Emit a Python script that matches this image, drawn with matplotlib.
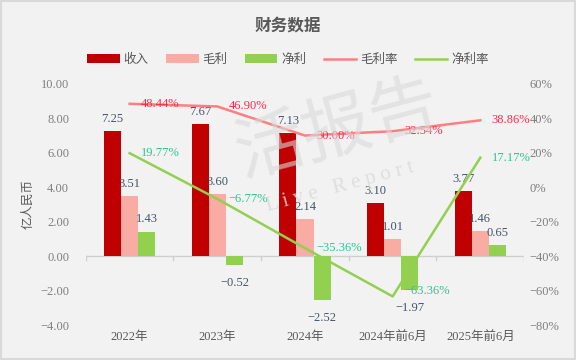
import matplotlib
matplotlib.use("Agg")
import matplotlib.pyplot as plt
import numpy as np
from matplotlib.ticker import FuncFormatter

# ---------------- data ----------------
categories = ["2022年", "2023年", "2024年", "2024年前6月", "2025年前6月"]
revenue = [7.25, 7.67, 7.13, 3.10, 3.77]
gross_profit = [3.51, 3.60, 2.14, 1.01, 1.46]
net_profit = [1.43, -0.52, -2.52, -1.97, 0.65]
gross_margin = [48.44, 46.90, 30.00, 32.54, 38.86]
net_margin = [19.77, -6.77, -35.36, -63.36, 17.17]

# ---------------- style ----------------
FONT = ["Liberation Serif", "Noto Sans CJK SC"]
plt.rcParams["font.family"] = FONT
plt.rcParams["axes.unicode_minus"] = True

BG = "#f2f2f2"
C_REV = "#c00000"
C_GP = "#f9aca3"
C_NP = "#92d050"
C_GM = "#ff7f7f"
C_NM = "#92d050"
C_TXT = "#595959"
C_LBL = "#44546a"

fig = plt.figure(figsize=(5.76, 3.6), dpi=100, facecolor=BG)
ax = fig.add_axes([0.149, 0.097, 0.761, 0.670])
ax.set_facecolor(BG)
ax2 = ax.twinx()

x = np.arange(len(categories))
w = 0.195

# watermark
fig.text(0.585, 0.64, "活报告", fontsize=50, color="#d9d9d9", alpha=0.6,
         rotation=15, ha="center", va="center", family="Noto Sans CJK SC",
         zorder=0)
fig.text(0.59, 0.48, "L i v e   R e p o r t", fontsize=15, color="#d9d9d9",
         alpha=0.8, rotation=15, ha="center", va="center", zorder=0)

b1 = ax.bar(x - w, revenue, w, color=C_REV, label="收入", zorder=3)
b2 = ax.bar(x, gross_profit, w, color=C_GP, label="毛利", zorder=3)
b3 = ax.bar(x + w, net_profit, w, color=C_NP, label="净利", zorder=3)

for bars, vals in [(b1, revenue), (b2, gross_profit), (b3, net_profit)]:
    for b, v in zip(bars, vals):
        txt = f"{v:.2f}".rstrip("0") if v == 0.65 else f"{v:.2f}"
        txt = txt.replace("-", "\u2212")
        if v >= 0:
            ax.text(b.get_x() + b.get_width() / 2, v + 0.35, txt,
                    ha="center", va="bottom", fontsize=9, color=C_LBL, zorder=5)
        else:
            ax.text(b.get_x() + b.get_width() / 2, v - 0.7, txt,
                    ha="center", va="top", fontsize=9, color=C_LBL, zorder=5)

ax.set_xlim(-0.5, len(categories) - 0.5)
ax.set_ylim(-4, 10)
ax.set_yticks(np.arange(-4, 10.1, 2))
ax.yaxis.set_major_formatter(FuncFormatter(lambda v, p: f"{v:.2f}".replace("-", "\u2212")))
ax.tick_params(axis="y", length=0, labelsize=9, colors="#7f7f7f", pad=12)
ax.set_ylabel("亿人民币", fontsize=9, color=C_TXT, family="Noto Sans CJK SC",
              labelpad=4)

ax.set_xticks(x)
ax.set_xticklabels(categories, fontsize=9, color=C_TXT)
ax.tick_params(axis="x", length=0, pad=4)

# zero line with category separator ticks
ax.axhline(0, color="#d0d0d0", lw=1, zorder=2)
for b in np.arange(-0.5, len(categories), 1.0):
    ax.plot([b, b], [0, -0.2], color="#d0d0d0", lw=1, zorder=2)

for a in (ax, ax2):
    for s in a.spines.values():
        s.set_visible(False)

# lines on right axis
ax2.plot(x, gross_margin, color=C_GM, lw=1.8, label="毛利率", zorder=4)
ax2.plot(x, net_margin, color=C_NM, lw=1.8, label="净利率", zorder=4)
for xi, v in zip(x, gross_margin):
    ax2.text(xi + 0.13, v, f"{v:.2f}%", ha="left", va="center",
             fontsize=9, color="#ff2a4a", zorder=6)
for xi, v in zip(x, net_margin):
    yy = v + 3 if v < -50 else v
    ax2.text(xi + 0.13, yy, f"{v:.2f}%".replace("-", "\u2212"), ha="left",
             va="center", fontsize=9, color="#2ec592", zorder=6)

ax2.set_ylim(-80, 60)
ax2.set_yticks(np.arange(-80, 61, 20))
ax2.yaxis.set_major_formatter(FuncFormatter(lambda v, p: f"{v:.0f}%".replace("-", "\u2212")))
ax2.tick_params(axis="y", length=0, labelsize=9, colors="#7f7f7f", pad=4)

# title and legend
fig.text(0.5, 0.93, "财务数据", ha="center", va="center", fontsize=12,
         fontweight="bold", color=C_TXT, family="Noto Sans CJK SC")
handles = [b1, b2, b3] + ax2.get_lines()
labels = ["收入", "毛利", "净利", "毛利率", "净利率"]
fig.legend(handles, labels, loc="center", bbox_to_anchor=(0.5, 0.835), ncol=5,
           frameon=False, fontsize=9, handlelength=2.6, handleheight=0.7,
           columnspacing=1.4, handletextpad=0.3,
           prop={"family": "Noto Sans CJK SC", "size": 9}, labelcolor=C_TXT)

# figure border
fig.patches.append(plt.Rectangle((0.002, 0.003), 0.996, 0.994, transform=fig.transFigure,
                                 fill=False, edgecolor="#d9d9d9", lw=1.5))

fig.savefig("out.png", dpi=100, facecolor=BG)
